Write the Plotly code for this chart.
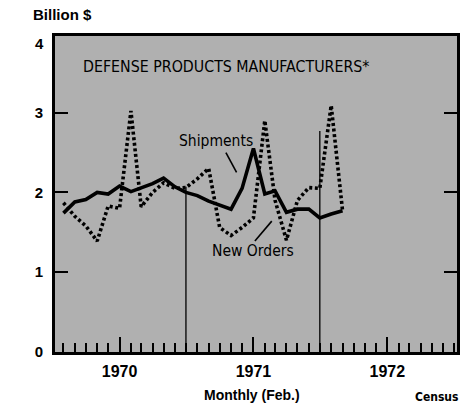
import plotly.graph_objects as go

# Monthly series, Aug 1969 - Sep 1971 (billion dollars)
months = [
    "1969-08-01", "1969-09-01", "1969-10-01", "1969-11-01", "1969-12-01",
    "1970-01-01", "1970-02-01", "1970-03-01", "1970-04-01", "1970-05-01",
    "1970-06-01", "1970-07-01", "1970-08-01", "1970-09-01", "1970-10-01",
    "1970-11-01", "1970-12-01", "1971-01-01", "1971-02-01", "1971-03-01",
    "1971-04-01", "1971-05-01", "1971-06-01", "1971-07-01", "1971-08-01",
    "1971-09-01",
]
shipments = [
    1.74, 1.88, 1.91, 2.00, 1.98, 2.08, 2.01, 2.06, 2.11, 2.18,
    2.07, 2.00, 1.96, 1.89, 1.84, 1.79, 2.05, 2.55, 1.98, 2.02,
    1.75, 1.79, 1.79, 1.68, 1.73, 1.77,
]
new_orders = [
    1.87, 1.70, 1.58, 1.39, 1.83, 1.80, 3.02, 1.82, 2.00, 2.12,
    2.05, 2.06, 2.17, 2.30, 1.56, 1.46, 1.56, 1.68, 2.90, 1.90,
    1.40, 1.90, 2.06, 2.05, 3.09, 1.77,
]

y_ticks = [0, 1, 2, 3]
top_label = "4"
year_ticks = ["1970-01-01", "1971-01-01", "1972-01-01"]
year_labels = ["1970", "1971", "1972"]

# fiscal-year markers (date, height of the drop line)
fiscal_marks = [("1970-07-01", 2.07), ("1971-07-01", 2.77)]

# leader lines for the series labels: (x0, y0, x1, y1)
ship_leader = ("1970-10-18", 2.50, "1970-11-16", 2.25)
orders_leader = ("1971-01-05", 1.39, "1971-02-20", 1.64)

BOLD = "Liberation Sans"
NARROW = "DejaVu Sans Condensed, Liberation Sans Narrow, DejaVu Sans"


def narrow_font(size, weight="normal"):
    return dict(family=NARROW, size=size, color="black", weight=weight)


fig = go.Figure()

fig.add_trace(go.Scatter(
    x=months, y=new_orders, mode="lines",
    line=dict(color="black", width=3.6, dash="3px,2.6px"),
    name="New Orders", hoverinfo="skip",
))
fig.add_trace(go.Scatter(
    x=months, y=shipments, mode="lines",
    line=dict(color="black", width=3.6),
    name="Shipments", hoverinfo="skip",
))

shapes = []
for d, v in fiscal_marks:
    shapes.append(dict(type="line", xref="x", yref="y", x0=d, x1=d, y0=0, y1=v,
                       line=dict(color="black", width=1.3)))
for (a, b, c, e) in (ship_leader, orders_leader):
    shapes.append(dict(type="line", xref="x", yref="y", x0=a, y0=b, x1=c, y1=e,
                       line=dict(color="black", width=1.6)))

annotations = [
    dict(text="DEFENSE PRODUCTS MANUFACTURERS*", xref="paper", yref="paper",
         x=0.064, y=0.905, xanchor="left", yanchor="middle", showarrow=False,
         font=narrow_font(15.8)),
    dict(text="Shipments", xref="x", yref="y", x="1970-09-20", y=2.65,
         xanchor="center", yanchor="middle", showarrow=False,
         font=narrow_font(15.5)),
    dict(text="New Orders", xref="x", yref="y", x="1971-01-01", y=1.26,
         xanchor="center", yanchor="middle", showarrow=False,
         font=narrow_font(15.5)),
    dict(text="Billion $", xref="paper", yref="paper", x=-0.06, y=1.0,
         xanchor="left", yanchor="bottom", yshift=11, showarrow=False,
         font=dict(family=BOLD, size=15, color="black", weight="bold")),
    dict(text=top_label, xref="paper", yref="paper", x=0, y=1,
         xanchor="right", yanchor="middle", xshift=-9, yshift=-7, showarrow=False,
         font=dict(family=BOLD, size=15, color="black", weight="bold")),
    dict(text="Monthly (Feb.)", xref="paper", yref="paper", x=0.49, y=0,
         xanchor="center", yanchor="middle", yshift=-43, showarrow=False,
         font=dict(family=BOLD, size=14, color="black", weight="bold")),
    dict(text="Census", xref="paper", yref="paper", x=0.95, y=0,
         xanchor="center", yanchor="middle", yshift=-45, showarrow=False,
         font=narrow_font(12, "bold")),
]

fig.update_layout(
    width=472, height=407,
    margin=dict(l=55, r=13, t=36, b=55),
    paper_bgcolor="white",
    plot_bgcolor="#b0b0b0",
    showlegend=False,
    shapes=shapes,
    annotations=annotations,
    xaxis=dict(
        type="date", range=["1969-07-09", "1972-07-09"],
        tickmode="array", tickvals=year_ticks, ticktext=year_labels,
        ticks="inside", ticklen=15, tickwidth=2, tickcolor="black",
        minor=dict(dtick="M1", tick0="1970-01-01", ticks="inside", ticklen=9,
                   tickwidth=1.5, tickcolor="black"),
        showline=True, linecolor="black", linewidth=2.6, mirror=True,
        showgrid=False, zeroline=False,
        ticklabelstandoff=3,
        tickfont=dict(family=BOLD, size=16, color="black", weight="bold"),
    ),
    yaxis=dict(
        range=[0, 3.96],
        tickmode="array", tickvals=y_ticks, ticktext=[str(t) for t in y_ticks],
        ticks="inside", ticklen=13, tickwidth=2, tickcolor="black",
        showline=True, linecolor="black", linewidth=2.6, mirror="ticks",
        showgrid=False, zeroline=False,
        ticklabelstandoff=6,
        tickfont=dict(family=BOLD, size=15, color="black", weight="bold"),
    ),
)

fig.write_html("out.html")
